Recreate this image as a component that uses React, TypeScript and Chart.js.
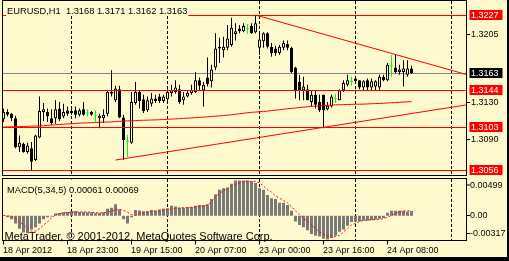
import React, { useEffect, useRef } from "react";
import { Chart, registerables } from "chart.js";

Chart.register(...registerables);

// ---------- data ----------
const SYMBOL = "EURUSD,H1";
const SLOT_COUNT = 117; // bars + empty chart shift on the right
const TIME_TICK_INDEX = [0, 16, 32, 48, 64, 80, 96];
const TIME_TICK_LABELS = ["18 Apr 2012", "18 Apr 23:00", "19 Apr 15:00", "20 Apr 07:00", "23 Apr 00:00", "23 Apr 16:00", "24 Apr 08:00"];
const DAY_START_INDEX = [17, 41, 64, 88, 112];

const OPEN = [
  1.3112, 1.3120, 1.3118, 1.3113, 1.3081, 1.3085, 1.3076, 1.3080, 1.3067, 1.3092,
  1.3120, 1.3120, 1.3113, 1.3113, 1.3124, 1.3115, 1.3122, 1.3119, 1.3122, 1.3117,
  1.3123, 1.3119, 1.3120, 1.3116, 1.3113, 1.3113, 1.3118, 1.3142, 1.3133, 1.3145,
  1.3114, 1.3088, 1.3086, 1.3130, 1.3142, 1.3134, 1.3122, 1.3129, 1.3135, 1.3137,
  1.3132, 1.3134, 1.3141, 1.3142, 1.3145, 1.3133, 1.3137, 1.3141, 1.3142, 1.3155,
  1.3144, 1.3158, 1.3154, 1.3169, 1.3190, 1.3188, 1.3191, 1.3194, 1.3206, 1.3212,
  1.3209, 1.3212, 1.3215, 1.3208, 1.3191, 1.3198, 1.3207, 1.3192, 1.3190, 1.3185,
  1.3191, 1.3195, 1.3191, 1.3169, 1.3153, 1.3144, 1.3145, 1.3131, 1.3139, 1.3131,
  1.3139, 1.3123, 1.3126, 1.3135, 1.3133, 1.3144, 1.3150, 1.3154, 1.3157, 1.3155,
  1.3147, 1.3155, 1.3147, 1.3148, 1.3147, 1.3159, 1.3155, 1.3171, 1.3169, 1.3164,
  1.3164, 1.3161, 1.3168,
];
const HIGH = [
  1.3124, 1.3123, 1.3119, 1.3116, 1.3094, 1.3086, 1.3086, 1.3087, 1.3095, 1.3137,
  1.3130, 1.3124, 1.3123, 1.3133, 1.3131, 1.3129, 1.3126, 1.3124, 1.3126, 1.3124,
  1.3131, 1.3123, 1.3121, 1.3122, 1.3118, 1.3123, 1.3144, 1.3166, 1.3149, 1.3149,
  1.3117, 1.3095, 1.3142, 1.3153, 1.3144, 1.3139, 1.3137, 1.3141, 1.3139, 1.3140,
  1.3139, 1.3145, 1.3150, 1.3155, 1.3150, 1.3142, 1.3144, 1.3150, 1.3164, 1.3158,
  1.3153, 1.3180, 1.3172, 1.3207, 1.3202, 1.3203, 1.3216, 1.3224, 1.3218, 1.3216,
  1.3218, 1.3217, 1.3218, 1.3227, 1.3207, 1.3208, 1.3208, 1.3196, 1.3193, 1.3194,
  1.3199, 1.3199, 1.3192, 1.3170, 1.3161, 1.3159, 1.3150, 1.3144, 1.3144, 1.3139,
  1.3139, 1.3131, 1.3139, 1.3140, 1.3145, 1.3155, 1.3161, 1.3159, 1.3159, 1.3155,
  1.3155, 1.3157, 1.3157, 1.3155, 1.3161, 1.3161, 1.3174, 1.3183, 1.3184, 1.3172,
  1.3177, 1.3177, 1.3171,
];
const LOW = [
  1.3109, 1.3115, 1.3110, 1.3080, 1.3076, 1.3075, 1.3074, 1.3056, 1.3066, 1.3091,
  1.3110, 1.3109, 1.3106, 1.3107, 1.3110, 1.3113, 1.3116, 1.3117, 1.3113, 1.3115,
  1.3116, 1.3115, 1.3116, 1.3109, 1.3102, 1.3108, 1.3115, 1.3137, 1.3131, 1.3113,
  1.3067, 1.3070, 1.3085, 1.3128, 1.3124, 1.3119, 1.3120, 1.3126, 1.3130, 1.3130,
  1.3130, 1.3131, 1.3137, 1.3140, 1.3129, 1.3128, 1.3136, 1.3139, 1.3141, 1.3144,
  1.3126, 1.3148, 1.3147, 1.3166, 1.3174, 1.3180, 1.3188, 1.3192, 1.3199, 1.3207,
  1.3208, 1.3206, 1.3206, 1.3207, 1.3183, 1.3191, 1.3190, 1.3181, 1.3182, 1.3183,
  1.3188, 1.3188, 1.3163, 1.3135, 1.3133, 1.3133, 1.3133, 1.3126, 1.3124, 1.3120,
  1.3102, 1.3122, 1.3125, 1.3130, 1.3133, 1.3142, 1.3148, 1.3149, 1.3152, 1.3145,
  1.3144, 1.3144, 1.3144, 1.3144, 1.3144, 1.3154, 1.3154, 1.3159, 1.3163, 1.3161,
  1.3148, 1.3159, 1.3162,
];
const CLOSE = [
  1.3120, 1.3117, 1.3113, 1.3081, 1.3086, 1.3076, 1.3083, 1.3065, 1.3094, 1.3121,
  1.3123, 1.3115, 1.3108, 1.3123, 1.3112, 1.3120, 1.3118, 1.3121, 1.3117, 1.3122,
  1.3117, 1.3119, 1.3117, 1.3116, 1.3116, 1.3117, 1.3142, 1.3140, 1.3146, 1.3114,
  1.3089, 1.3088, 1.3131, 1.3142, 1.3132, 1.3121, 1.3133, 1.3135, 1.3132, 1.3132,
  1.3137, 1.3142, 1.3144, 1.3147, 1.3131, 1.3137, 1.3141, 1.3144, 1.3155, 1.3149,
  1.3150, 1.3151, 1.3167, 1.3190, 1.3192, 1.3192, 1.3201, 1.3213, 1.3209, 1.3209,
  1.3215, 1.3212, 1.3207, 1.3218, 1.3200, 1.3207, 1.3192, 1.3185, 1.3185, 1.3192,
  1.3196, 1.3191, 1.3164, 1.3144, 1.3144, 1.3148, 1.3133, 1.3139, 1.3128, 1.3122,
  1.3122, 1.3127, 1.3137, 1.3135, 1.3144, 1.3152, 1.3155, 1.3154, 1.3154, 1.3147,
  1.3154, 1.3147, 1.3154, 1.3154, 1.3159, 1.3155, 1.3172, 1.3171, 1.3164, 1.3167,
  1.3168, 1.3168, 1.3163,
];
const MOVING_AVERAGE = [
  1.31035, 1.31036, 1.31037, 1.31038, 1.31039, 1.31041, 1.31042, 1.31044, 1.31045, 1.31046,
  1.31049, 1.31053, 1.31056, 1.31059, 1.31063, 1.31065, 1.31068, 1.31071, 1.31074, 1.31077,
  1.31079, 1.31081, 1.31083, 1.31084, 1.31087, 1.31088, 1.31090, 1.31091, 1.31094, 1.31097,
  1.31100, 1.31102, 1.31103, 1.31105, 1.31107, 1.31109, 1.31110, 1.31112, 1.31113, 1.31115,
  1.31117, 1.31120, 1.31122, 1.31124, 1.31127, 1.31130, 1.31133, 1.31135, 1.31138, 1.31141,
  1.31144, 1.31147, 1.31151, 1.31154, 1.31157, 1.31161, 1.31165, 1.31170, 1.31175, 1.31181,
  1.31186, 1.31192, 1.31197, 1.31199, 1.31203, 1.31205, 1.31210, 1.31216, 1.31221, 1.31225,
  1.31230, 1.31236, 1.31240, 1.31244, 1.31249, 1.31253, 1.31258, 1.31262, 1.31265, 1.31268,
  1.31271, 1.31273, 1.31275, 1.31279, 1.31280, 1.31281, 1.31283, 1.31284, 1.31286, 1.31286,
  1.31287, 1.31289, 1.31291, 1.31293, 1.31294, 1.31296, 1.31300, 1.31302, 1.31304, 1.31307,
  1.31310, 1.31312, 1.31314,
];
const MACD_MAIN = [
  0.00005, -0.00018, -0.00046, -0.0010, -0.0017, -0.0022, -0.0023, -0.0018, -0.0015, -0.0010,
  -0.00046, -0.00018, -0.00009, 0.00028, 0.00037, 0.00046, 0.0005, 0.0006, 0.0006, 0.0005,
  0.0005, 0.00046, 0.00046, 0.00037, 0.00037, 0.00046, 0.00092, 0.00106, 0.0015, 0.00083,
  -0.00046, -0.0010, -0.00018, 0.00074, 0.00069, 0.0006, 0.0006, 0.00074, 0.00069, 0.00083,
  0.00092, 0.00097, 0.0013, 0.0012, 0.00106, 0.00106, 0.00115, 0.00115, 0.0013, 0.0014,
  0.0014, 0.0015, 0.0022, 0.0028, 0.0034, 0.0036, 0.0037, 0.0042, 0.0046, 0.0046,
  0.0046, 0.0046, 0.0045, 0.0043, 0.0036, 0.0034, 0.0027, 0.0023, 0.0022, 0.0017,
  0.0017, 0.0014, 0.00064, -0.00074, -0.0012, -0.0015, -0.0019, -0.0024, -0.0026, -0.0027,
  -0.0030, -0.0031, -0.0029, -0.0026, -0.0021, -0.0018, -0.0013, -0.0008, -0.00074, -0.00074,
  -0.00064, -0.00064, -0.0006, -0.0005, -0.0004, -0.0003, 0.0004, 0.00064, 0.00064, 0.00064,
  0.00064, 0.00055, 0.00061,
];
const MACD_SIGNAL = [
  0.00005, 0, -0.0001, -0.0003, -0.0008, -0.0012, -0.0017, -0.0020, -0.0020, -0.0017,
  -0.0012, -0.0008, -0.0003, 0.00014, 0.00028, 0.00037, 0.0004, 0.00046, 0.0005, 0.0005,
  0.0005, 0.0005, 0.00046, 0.0004, 0.00037, 0.0004, 0.00046, 0.0006, 0.00078, 0.00083,
  0.00069, 0.00046, 0.00014, 0.00005, 0.00028, 0.00037, 0.0005, 0.00055, 0.0006, 0.00064,
  0.00074, 0.00078, 0.00087, 0.00097, 0.001, 0.00106, 0.00106, 0.0011, 0.00115, 0.0012,
  0.0013, 0.0014, 0.0018, 0.0025, 0.0029, 0.0033, 0.0035, 0.0039, 0.0041, 0.0043,
  0.0045, 0.0045, 0.0045, 0.0045, 0.0043, 0.0039, 0.0034, 0.0031, 0.0026, 0.0023,
  0.002, 0.0017, 0.0012, 0.00064, 0.00018, -0.0003, -0.00074, -0.0012, -0.0017, -0.0021,
  -0.0024, -0.0027, -0.0028, -0.0027, -0.0026, -0.0021, -0.0017, -0.0012, -0.001, -0.00074,
  -0.0006, -0.00055, -0.0005, -0.0005, -0.00046, -0.00037, -0.00018, 0.00005, 0.0003, 0.0005,
  0.0006, 0.00064, 0.00069,
];
const LEVELS = [1.3227, 1.3144, 1.3103, 1.3056];
const BID = 1.3163;
const PRICE_TICKS = [1.3205, 1.3130, 1.3090];
const TREND_DOWN: [number, number][] = [[63, 1.3227], [116, 1.3161]];
const TREND_UP: [number, number][] = [[28, 1.3067], [116, 1.3128]];
const PRICE_MIN = 1.30494;
const PRICE_MAX = 1.324245;
const MACD_MIN = -0.00317;
const MACD_MAX = 0.0052;
const MACD_LABEL_TOP = "0.00499";
const MACD_LABEL_ZERO = "0.00";
const MACD_LABEL_BOTTOM = "-0.00317";
const MACD_NAME = "MACD(5,34,5)";
const COPYRIGHT = "MetaTrader, © 2001-2012, MetaQuotes Software Corp.";

// ---------- style ----------
const BG = "#FFFACD";
const RED = "#FF0000";
const LIME = "#00FF00";
const BLACK = "#000000";
const BID_GRAY = "#808090";
const HIST_GRAY = "#787878";
const FONT = '"Liberation Sans", Arial, sans-serif';
const DOJI_HALF = 0.00005;
const PANE_LEFT = 2.5;
const PANE_RIGHT = 466.5;
const MAIN_TOP = 0.5;
const MAIN_BOTTOM = 175.5;
const MACD_TOP = 178.5;
const MACD_BOTTOM = 240.5;

const crisp = (v: number) => Math.floor(v) + 0.5;

const last = OPEN.length - 1;
const HEADER = `${SYMBOL}  ${OPEN[last].toFixed(4)} ${HIGH[last].toFixed(4)} ${LOW[last].toFixed(4)} ${CLOSE[last].toFixed(4)}`;
const MACD_HEADER = `${MACD_NAME} ${MACD_MAIN[last].toFixed(5)} ${MACD_SIGNAL[last].toFixed(5)}`;

function hLine(ctx: any, y: number, x0: number, x1: number) {
  ctx.beginPath();
  ctx.moveTo(x0, y);
  ctx.lineTo(x1, y);
  ctx.stroke();
}

const mt4Plugin = {
  id: "mt4",
  beforeDraw(chart: any) {
    const { ctx, width, height } = chart;
    ctx.save();
    ctx.fillStyle = BG;
    ctx.fillRect(0, 0, width, height);
    ctx.restore();
  },
  beforeDatasetsDraw(chart: any) {
    const { ctx } = chart;
    const xs = chart.scales.x;
    const ys = chart.scales.y;
    ctx.save();
    ctx.strokeStyle = BLACK;
    ctx.lineWidth = 1;
    ctx.setLineDash([3, 2]);
    for (const i of DAY_START_INDEX) {
      const px = crisp(xs.getPixelForValue(i));
      ctx.beginPath();
      ctx.moveTo(px, MAIN_TOP + 0.5);
      ctx.lineTo(px, MAIN_BOTTOM);
      ctx.stroke();
      ctx.beginPath();
      ctx.moveTo(px, MACD_TOP + 0.5);
      ctx.lineTo(px, MACD_BOTTOM);
      ctx.stroke();
    }
    ctx.setLineDash([]);
    ctx.strokeStyle = BID_GRAY;
    hLine(ctx, crisp(ys.getPixelForValue(BID)), PANE_LEFT, PANE_RIGHT);
    ctx.restore();
  },
  afterDatasetsDraw(chart: any) {
    const { ctx, width, height } = chart;
    const xs = chart.scales.x;
    const ys = chart.scales.y;
    const ms = chart.scales.y2;
    ctx.save();
    // horizontal level objects
    ctx.strokeStyle = RED;
    ctx.lineWidth = 1;
    for (const v of LEVELS) hLine(ctx, crisp(ys.getPixelForValue(v)), PANE_LEFT, PANE_RIGHT);

    // cover gutters
    ctx.fillStyle = BG;
    ctx.fillRect(PANE_RIGHT + 0.5, 0, width - PANE_RIGHT, height);
    ctx.fillRect(0, MAIN_BOTTOM + 0.5, width, MACD_TOP - MAIN_BOTTOM - 1);
    ctx.fillRect(0, MACD_BOTTOM + 0.5, width, height - MACD_BOTTOM);
    ctx.fillRect(0, 0, PANE_LEFT - 0.5, height);

    // frame
    ctx.fillStyle = BLACK;
    ctx.fillRect(width - 2, 0, 2, height);
    ctx.fillRect(0, height - 4, width, 4);

    // pane borders
    ctx.strokeStyle = BLACK;
    ctx.strokeRect(PANE_LEFT, MAIN_TOP, PANE_RIGHT - PANE_LEFT, MAIN_BOTTOM - MAIN_TOP);
    ctx.strokeRect(PANE_LEFT, MACD_TOP, PANE_RIGHT - PANE_LEFT, MACD_BOTTOM - MACD_TOP);

    // right axis: price
    ctx.font = `9px ${FONT}`;
    ctx.textBaseline = "middle";
    ctx.textAlign = "left";
    const tickX0 = PANE_RIGHT;
    const textX = PANE_RIGHT + 4.5;
    for (const v of PRICE_TICKS) {
      const py = crisp(ys.getPixelForValue(v));
      ctx.strokeStyle = BLACK;
      hLine(ctx, py, tickX0, tickX0 + 3.5);
      ctx.fillStyle = BLACK;
      ctx.fillText(v.toFixed(4), textX, py + 0.5);
    }
    const boxed = (v: number, fill: string) => {
      const py = Math.floor(ys.getPixelForValue(v));
      ctx.fillStyle = fill;
      ctx.fillRect(PANE_RIGHT + 3, py - 5, 33, 10);
      ctx.fillStyle = "#FFFFFF";
      ctx.fillText(v.toFixed(4), textX, py + 0.5);
    };
    for (const v of LEVELS) boxed(v, RED);
    boxed(BID, BLACK);

    // right axis: MACD
    const macdTicks: [number, string][] = [
      [MACD_TOP + 6.5, MACD_LABEL_TOP],
      [crisp(ms.getPixelForValue(0)), MACD_LABEL_ZERO],
      [MACD_BOTTOM - 7, MACD_LABEL_BOTTOM],
    ];
    for (const [py, label] of macdTicks) {
      ctx.strokeStyle = BLACK;
      hLine(ctx, py, tickX0, tickX0 + 3.5);
      ctx.fillStyle = BLACK;
      ctx.fillText(label, textX - 1, py + 0.5);
    }

    // bottom time axis
    ctx.textBaseline = "alphabetic";
    TIME_TICK_INDEX.forEach((i, n) => {
      const px = crisp(xs.getPixelForValue(i));
      ctx.strokeStyle = BLACK;
      ctx.beginPath();
      ctx.moveTo(px, MACD_BOTTOM + 0.5);
      ctx.lineTo(px, MACD_BOTTOM + 4);
      ctx.stroke();
      ctx.fillStyle = BLACK;
      ctx.fillText(TIME_TICK_LABELS[n], px - 0.5, 252.5);
    });

    // header texts with background
    const labelBox = (text: string, x: number, baseline: number, font: string) => {
      ctx.font = font;
      const w = ctx.measureText(text).width;
      ctx.fillStyle = BG;
      ctx.fillRect(x - 1, baseline - 13, w + 2, 15);
      ctx.fillStyle = BLACK;
      ctx.fillText(text, x, baseline);
    };
    labelBox(HEADER, 7, 14, `9.3px ${FONT}`);
    labelBox(MACD_HEADER, 7, 192.5, `9.3px ${FONT}`);

    ctx.font = `11px ${FONT}`;
    ctx.fillStyle = BLACK;
    ctx.fillText(COPYRIGHT, 4.5, 239.5);
    ctx.restore();
  },
};

export default function App() {
  const ref = useRef<HTMLCanvasElement>(null);
  useEffect(() => {
    const canvas = ref.current;
    if (!canvas) return;
    const labels = Array.from({ length: SLOT_COUNT }, (_, i) => String(i));
    const isDoji = (i: number) => OPEN[i] === CLOSE[i];
    const isBull = (i: number) => CLOSE[i] > OPEN[i];
    const wickData = OPEN.map((_, i) => [LOW[i], HIGH[i]]);
    const wickColors = OPEN.map((_, i) => (isDoji(i) ? LIME : BLACK));
    const bodyData = OPEN.map((o, i) =>
      isDoji(i) ? [o - DOJI_HALF, o + DOJI_HALF] : [Math.min(o, CLOSE[i]), Math.max(o, CLOSE[i])]
    );
    const bodyFill = OPEN.map((_, i) => (isDoji(i) ? LIME : isBull(i) ? BG : BLACK));
    const bodyBorder = OPEN.map((_, i) => (isDoji(i) ? LIME : BLACK));
    const bodyBorderWidth = OPEN.map((_, i) => (isDoji(i) ? 0 : 1));
    const toPoints = (pts: [number, number][]) => pts.map(([i, v]) => ({ x: String(i), y: v }));

    const chart = new Chart(canvas, {
      type: "bar",
      data: {
        labels,
        datasets: [
          {
            type: "bar",
            data: wickData as any,
            yAxisID: "y",
            backgroundColor: wickColors,
            barThickness: 1,
            borderWidth: 0,
            inflateAmount: 0,
            grouped: false,
            order: 6,
          } as any,
          {
            type: "bar",
            data: bodyData as any,
            yAxisID: "y",
            backgroundColor: bodyFill,
            borderColor: bodyBorder,
            borderWidth: bodyBorderWidth,
            borderSkipped: false,
            barThickness: 3,
            inflateAmount: 0,
            grouped: false,
            order: 5,
          } as any,
          {
            type: "line",
            data: MOVING_AVERAGE,
            yAxisID: "y",
            borderColor: RED,
            borderWidth: 1,
            pointRadius: 0,
            tension: 0,
            order: 4,
          } as any,
          {
            type: "line",
            data: toPoints(TREND_DOWN) as any,
            yAxisID: "y",
            borderColor: RED,
            borderWidth: 1,
            pointRadius: 0,
            order: 3,
          } as any,
          {
            type: "line",
            data: toPoints(TREND_UP) as any,
            yAxisID: "y",
            borderColor: RED,
            borderWidth: 1,
            pointRadius: 0,
            order: 3,
          } as any,
          {
            type: "bar",
            data: MACD_MAIN,
            yAxisID: "y2",
            backgroundColor: HIST_GRAY,
            borderWidth: 0,
            barThickness: 3,
            inflateAmount: 0,
            grouped: false,
            order: 7,
          } as any,
          {
            type: "line",
            data: MACD_SIGNAL,
            yAxisID: "y2",
            borderColor: RED,
            borderWidth: 1,
            borderDash: [2, 2],
            pointRadius: 0,
            tension: 0,
            order: 1,
          } as any,
        ],
      },
      options: {
        animation: false,
        responsive: false,
        maintainAspectRatio: false,
        devicePixelRatio: 1,
        events: [],
        layout: { padding: { left: 1.5, right: 39.5, top: 1, bottom: 21 } },
        plugins: { legend: { display: false }, tooltip: { enabled: false }, title: { display: false } },
        scales: {
          x: { type: "category", display: false, offset: true, grid: { display: false } },
          y: {
            position: "right",
            display: false,
            min: PRICE_MIN,
            max: PRICE_MAX,
            stack: "panes",
            stackWeight: 175,
          },
          y2: {
            position: "right",
            display: false,
            min: MACD_MIN,
            max: MACD_MAX,
            stack: "panes",
            stackWeight: 64,
          },
        },
      } as any,
      plugins: [mt4Plugin as any],
    });
    return () => chart.destroy();
  }, []);

  return (
    <div style={{ position: "fixed", left: 0, top: 0, width: 509, height: 261 }}>
      <canvas ref={ref} width={509} height={261} style={{ display: "block", width: 509, height: 261 }} />
    </div>
  );
}
